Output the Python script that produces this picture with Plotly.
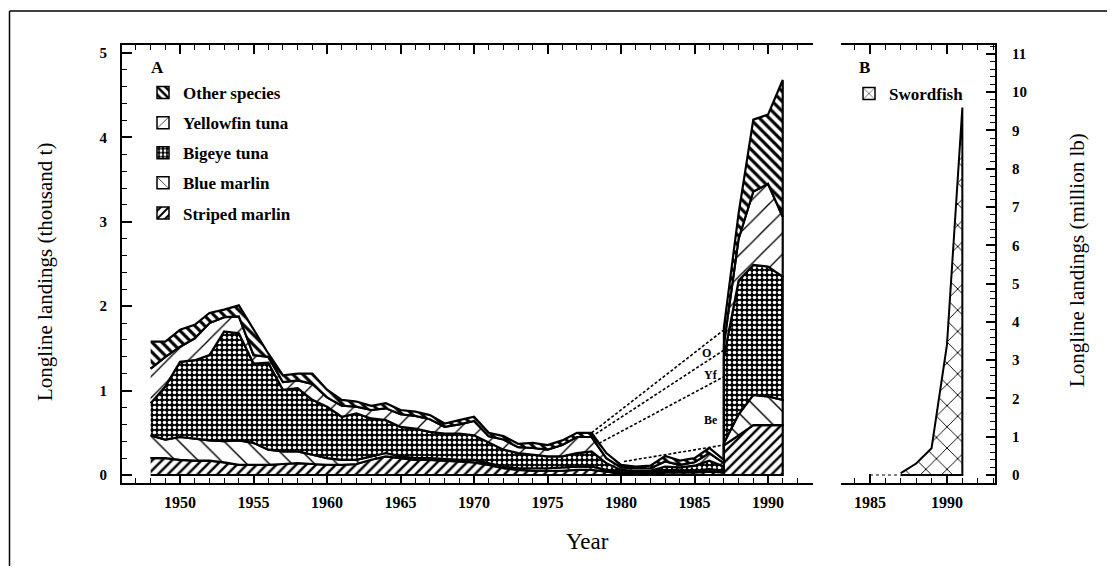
import numpy as np
import plotly.graph_objects as go

# ---------------- data ----------------
LB_PER_T = 2.20462  # million lb per thousand t

# Panel A: longline landings (thousand t), two data segments (break at 1987)
years_a = list(range(1948, 1988))
years_b = list(range(1987, 1992))

striped_a = [0.20, 0.20, 0.18, 0.17, 0.17, 0.15, 0.12, 0.12, 0.12, 0.13,
             0.14, 0.13, 0.12, 0.12, 0.13, 0.18, 0.22, 0.20, 0.18, 0.18,
             0.17, 0.16, 0.15, 0.12, 0.08, 0.06, 0.05, 0.05, 0.05, 0.06,
             0.06, 0.04, 0.02, 0.02, 0.02, 0.03, 0.03, 0.03, 0.04, 0.03]
blue_a = [0.27, 0.22, 0.27, 0.26, 0.24, 0.25, 0.29, 0.26, 0.18, 0.15,
          0.14, 0.11, 0.08, 0.06, 0.05, 0.04, 0.04, 0.02, 0.02, 0.02,
          0.02, 0.02, 0.03, 0.02, 0.02, 0.02, 0.03, 0.03, 0.04, 0.04,
          0.04, 0.02, 0.01, 0.01, 0.01, 0.03, 0.02, 0.02, 0.03, 0.02]
bigeye_a = [0.38, 0.63, 0.89, 0.93, 1.01, 1.30, 1.27, 0.94, 1.03, 0.73,
            0.75, 0.65, 0.61, 0.51, 0.55, 0.45, 0.39, 0.35, 0.35, 0.31,
            0.30, 0.31, 0.29, 0.25, 0.20, 0.18, 0.16, 0.14, 0.13, 0.16,
            0.18, 0.08, 0.03, 0.02, 0.02, 0.04, 0.04, 0.06, 0.10, 0.05]
yellowfin_a = [0.41, 0.35, 0.18, 0.26, 0.38, 0.17, 0.20, 0.10, 0.07, 0.09,
               0.09, 0.19, 0.11, 0.13, 0.08, 0.10, 0.14, 0.15, 0.15, 0.15,
               0.08, 0.11, 0.17, 0.07, 0.12, 0.07, 0.08, 0.08, 0.135, 0.19,
               0.17, 0.06, 0.03, 0.03, 0.03, 0.06, 0.03, 0.04, 0.09, 0.04]
other_a = [0.32, 0.18, 0.20, 0.16, 0.12, 0.09, 0.13, 0.30, 0.04, 0.08,
           0.08, 0.12, 0.09, 0.07, 0.06, 0.05, 0.06, 0.05, 0.05, 0.05,
           0.04, 0.05, 0.05, 0.04, 0.04, 0.04, 0.06, 0.055, 0.055, 0.05,
           0.05, 0.06, 0.03, 0.02, 0.03, 0.065, 0.05, 0.05, 0.06, 0.04]

striped_b = [0.35, 0.47, 0.59, 0.59, 0.59]
blue_b = [0.03, 0.25, 0.36, 0.34, 0.30]
bigeye_b = [1.02, 1.58, 1.54, 1.54, 1.46]
yellowfin_b = [0.15, 0.50, 0.87, 0.98, 0.71]
other_b = [0.20, 0.30, 0.85, 0.82, 1.62]

species = ["Striped marlin", "Blue marlin", "Bigeye tuna", "Yellowfin tuna", "Other species"]
series_a = [striped_a, blue_a, bigeye_a, yellowfin_a, other_a]
series_b = [striped_b, blue_b, bigeye_b, yellowfin_b, other_b]

# dashed interpolation guides across the 1979-1986 gap (cumulative, thousand t)
gap_years = [1978, 1987]
gap_other = [0.50, 1.72]
gap_yellowfin = [0.455, 1.48]
gap_bigeye_years = [1978.5, 1987]
gap_bigeye = [0.375, 1.165]
gap_marlin_years = [1980.2, 1987]
gap_marlin = [0.16, 0.355]
gap_labels = ["O", "Yf", "Be"]
gap_label_x = [1985.8, 1986.1, 1986.1]
gap_label_y = [1.44, 1.18, 0.65]

# Panel B: swordfish (million lb)
sword_nodata_years = [1985, 1987]
sword_nodata = [0, 0]
sword_years = [1987, 1988, 1989, 1990, 1991]
sword_mlb = [0.05, 0.3, 0.7, 3.4, 9.6]

# ---------------- styles ----------------
FONT = "Liberation Serif"
PAGE_OFF = 8            # default body margin of the html page
W, H = 1115 - 2 * PAGE_OFF, 574 - 2 * PAGE_OFF
patterns = {
    "Striped marlin": dict(shape="/", size=7, solidity=0.35, fgcolor="black", bgcolor="white"),
    "Blue marlin": dict(shape="\\", size=16, solidity=0.09, fgcolor="black", bgcolor="white"),
    "Bigeye tuna": dict(shape=".", size=5, solidity=0.4, fgcolor="white", bgcolor="black"),
    "Yellowfin tuna": dict(shape="/", size=15, solidity=0.09, fgcolor="black", bgcolor="white"),
    "Other species": dict(shape="\\", size=7, solidity=0.45, fgcolor="black", bgcolor="white"),
    "Swordfish": dict(shape="x", size=15, solidity=0.12, fgcolor="black", bgcolor="white"),
}


def px_x(p):
    return (p - PAGE_OFF) / W


def px_y(p):
    return 1 - (p - PAGE_OFF) / H


fig = go.Figure()

# stacked bands as closed polygons
x_all = years_a + years_b
vals = np.array([a + b for a, b in zip(series_a, series_b)], dtype=float)
cum = np.cumsum(vals, axis=0)
for i, name in enumerate(species):
    upper = cum[i]
    lower = cum[i - 1] if i > 0 else np.zeros_like(upper)
    xp = x_all + x_all[::-1]
    yp = list(upper) + list(lower[::-1])
    fig.add_trace(go.Scatter(
        x=xp, y=yp, mode="lines", fill="toself", fillcolor="white",
        fillpattern=patterns[name], line=dict(color="black", width=2.2),
        showlegend=False, hoverinfo="skip", xaxis="x", yaxis="y"))

# dashed gap guides
for gx, gy in [(gap_years, gap_other), (gap_years, gap_yellowfin),
               (gap_bigeye_years, gap_bigeye), (gap_marlin_years, gap_marlin)]:
    fig.add_trace(go.Scatter(x=gx, y=gy, mode="lines",
                             line=dict(color="black", width=1.6, dash="3px,2px"),
                             showlegend=False, hoverinfo="skip", xaxis="x", yaxis="y"))

# swordfish
fig.add_trace(go.Scatter(x=sword_nodata_years, y=sword_nodata, mode="lines",
                         line=dict(color="black", width=1.2, dash="dot"),
                         showlegend=False, hoverinfo="skip", xaxis="x2", yaxis="y2"))
sx = sword_years + sword_years[::-1]
sy = sword_mlb + [0] * len(sword_years)
fig.add_trace(go.Scatter(x=sx, y=sy, mode="lines", fill="toself", fillcolor="white",
                         fillpattern=patterns["Swordfish"], line=dict(color="black", width=2),
                         showlegend=False, hoverinfo="skip", xaxis="x2", yaxis="y2"))

# legend entries
for name in ["Other species", "Yellowfin tuna", "Bigeye tuna", "Blue marlin", "Striped marlin"]:
    fig.add_trace(go.Bar(x=[None], y=[None], name=name, legendgroup=name, legend="legend",
                         marker=dict(color="white", line=dict(color="black", width=1.5),
                                     pattern=patterns[name]),
                         xaxis="x", yaxis="y"))
fig.add_trace(go.Bar(x=[None], y=[None], name="Swordfish", legend="legend2",
                     marker=dict(color="white", line=dict(color="black", width=1.5),
                                 pattern=patterns["Swordfish"]),
                     xaxis="x2", yaxis="y2"))

# ---------------- layout ----------------
xA = [px_x(122), px_x(813)]
xB = [px_x(841), px_x(995)]
yD = [px_y(483), px_y(45)]
t_range = [-0.095, 5.095]
lb_range = [v * LB_PER_T for v in t_range]

tick_font = dict(family=FONT, size=16, color="black", weight="bold")
common_ax = dict(showline=True, linecolor="black", linewidth=2, ticks="inside",
                 tickcolor="black", tickwidth=1.5, showgrid=False, zeroline=False,
                 automargin=False)
minor_ticks = dict(ticklen=5, ticks="inside", tickcolor="black", tickwidth=1)

fig.update_layout(
    width=W, height=H, margin=dict(l=0, r=0, t=0, b=0),
    paper_bgcolor="white", plot_bgcolor="white", template="none",
    barmode="overlay",
    xaxis=dict(domain=xA, range=[1946.05, 1993.06], anchor="y", tickvals=list(range(1950, 1991, 5)),
               ticklen=9, mirror="ticks", tickfont=tick_font, ticklabelstandoff=4,
               minor=dict(dtick=1, tick0=1950, **minor_ticks), **common_ax),
    yaxis=dict(domain=yD, range=t_range, anchor="x", dtick=1, ticklen=10,
               tickfont=dict(family=FONT, size=15, color="black", weight="bold"),
               ticklabelstandoff=10, minor=dict(dtick=0.2, **minor_ticks), **common_ax),
    yaxis3=dict(overlaying="y", side="right", anchor="x", range=lb_range, dtick=1, ticklen=9,
                showticklabels=False, minor=dict(dtick=0.2, **minor_ticks), **common_ax),
    xaxis2=dict(domain=xB, range=[1983.12, 1993.12], anchor="y2", tickvals=[1985, 1990],
                ticklen=9, mirror="ticks", tickfont=tick_font, ticklabelstandoff=4,
                minor=dict(dtick=1, tick0=1985, **minor_ticks), **common_ax),
    yaxis2=dict(domain=yD, range=lb_range, anchor="x2", side="right", dtick=1, ticklen=9,
                tickfont=dict(family=FONT, size=15, color="black", weight="bold"),
                ticklabelstandoff=12, minor=dict(dtick=0.2, **minor_ticks), **common_ax),
    yaxis4=dict(overlaying="y2", side="left", anchor="x2", range=t_range, dtick=1, ticklen=9,
                showticklabels=False, minor=dict(dtick=0.2, **minor_ticks), **common_ax),
    legend=dict(x=px_x(143), y=px_y(75), xanchor="left", yanchor="top",
                font=dict(family=FONT, size=17, color="black", weight="bold"),
                traceorder="grouped", tracegroupgap=5, bgcolor="rgba(0,0,0,0)",
                itemclick=False, itemdoubleclick=False),
    legend2=dict(x=px_x(849), y=px_y(76), xanchor="left", yanchor="top",
                 font=dict(family=FONT, size=17, color="black", weight="bold"),
                 bgcolor="rgba(0,0,0,0)", itemclick=False, itemdoubleclick=False),
    showlegend=True,
)


def ann_paper(text, x, y, size, angle=0):
    return dict(text=text, x=px_x(x), y=px_y(y), xref="paper", yref="paper",
                xanchor="center", yanchor="middle", textangle=angle, showarrow=False,
                font=dict(family=FONT, size=size, color="black"))


ann = [
    ann_paper("<b>A</b>", 157, 67, 17),
    ann_paper("<b>B</b>", 864, 67, 17),
    ann_paper("Year", 587, 541, 23),
    ann_paper("Longline landings (thousand t)", 45, 272, 21, -90),
    ann_paper("Longline landings (million lb)", 1077, 260, 21, -90),
]
for t, gx, gy in zip(gap_labels, gap_label_x, gap_label_y):
    ann.append(dict(text=f"<b>{t}</b>", x=gx, y=gy, xref="x", yref="y", showarrow=False,
                    xanchor="center", yanchor="middle",
                    font=dict(family=FONT, size=12, color="black")))
fig.update_layout(annotations=ann)

fig.update_layout(shapes=[
    dict(type="line", xref="paper", yref="paper", x0=px_x(9.5), x1=px_x(9.5), y0=px_y(574), y1=px_y(11),
         line=dict(color="black", width=1.5)),
    dict(type="line", xref="paper", yref="paper", x0=px_x(9.5), x1=px_x(1115), y0=px_y(11), y1=px_y(11),
         line=dict(color="black", width=1.5)),
])

fig.write_html("out.html")
